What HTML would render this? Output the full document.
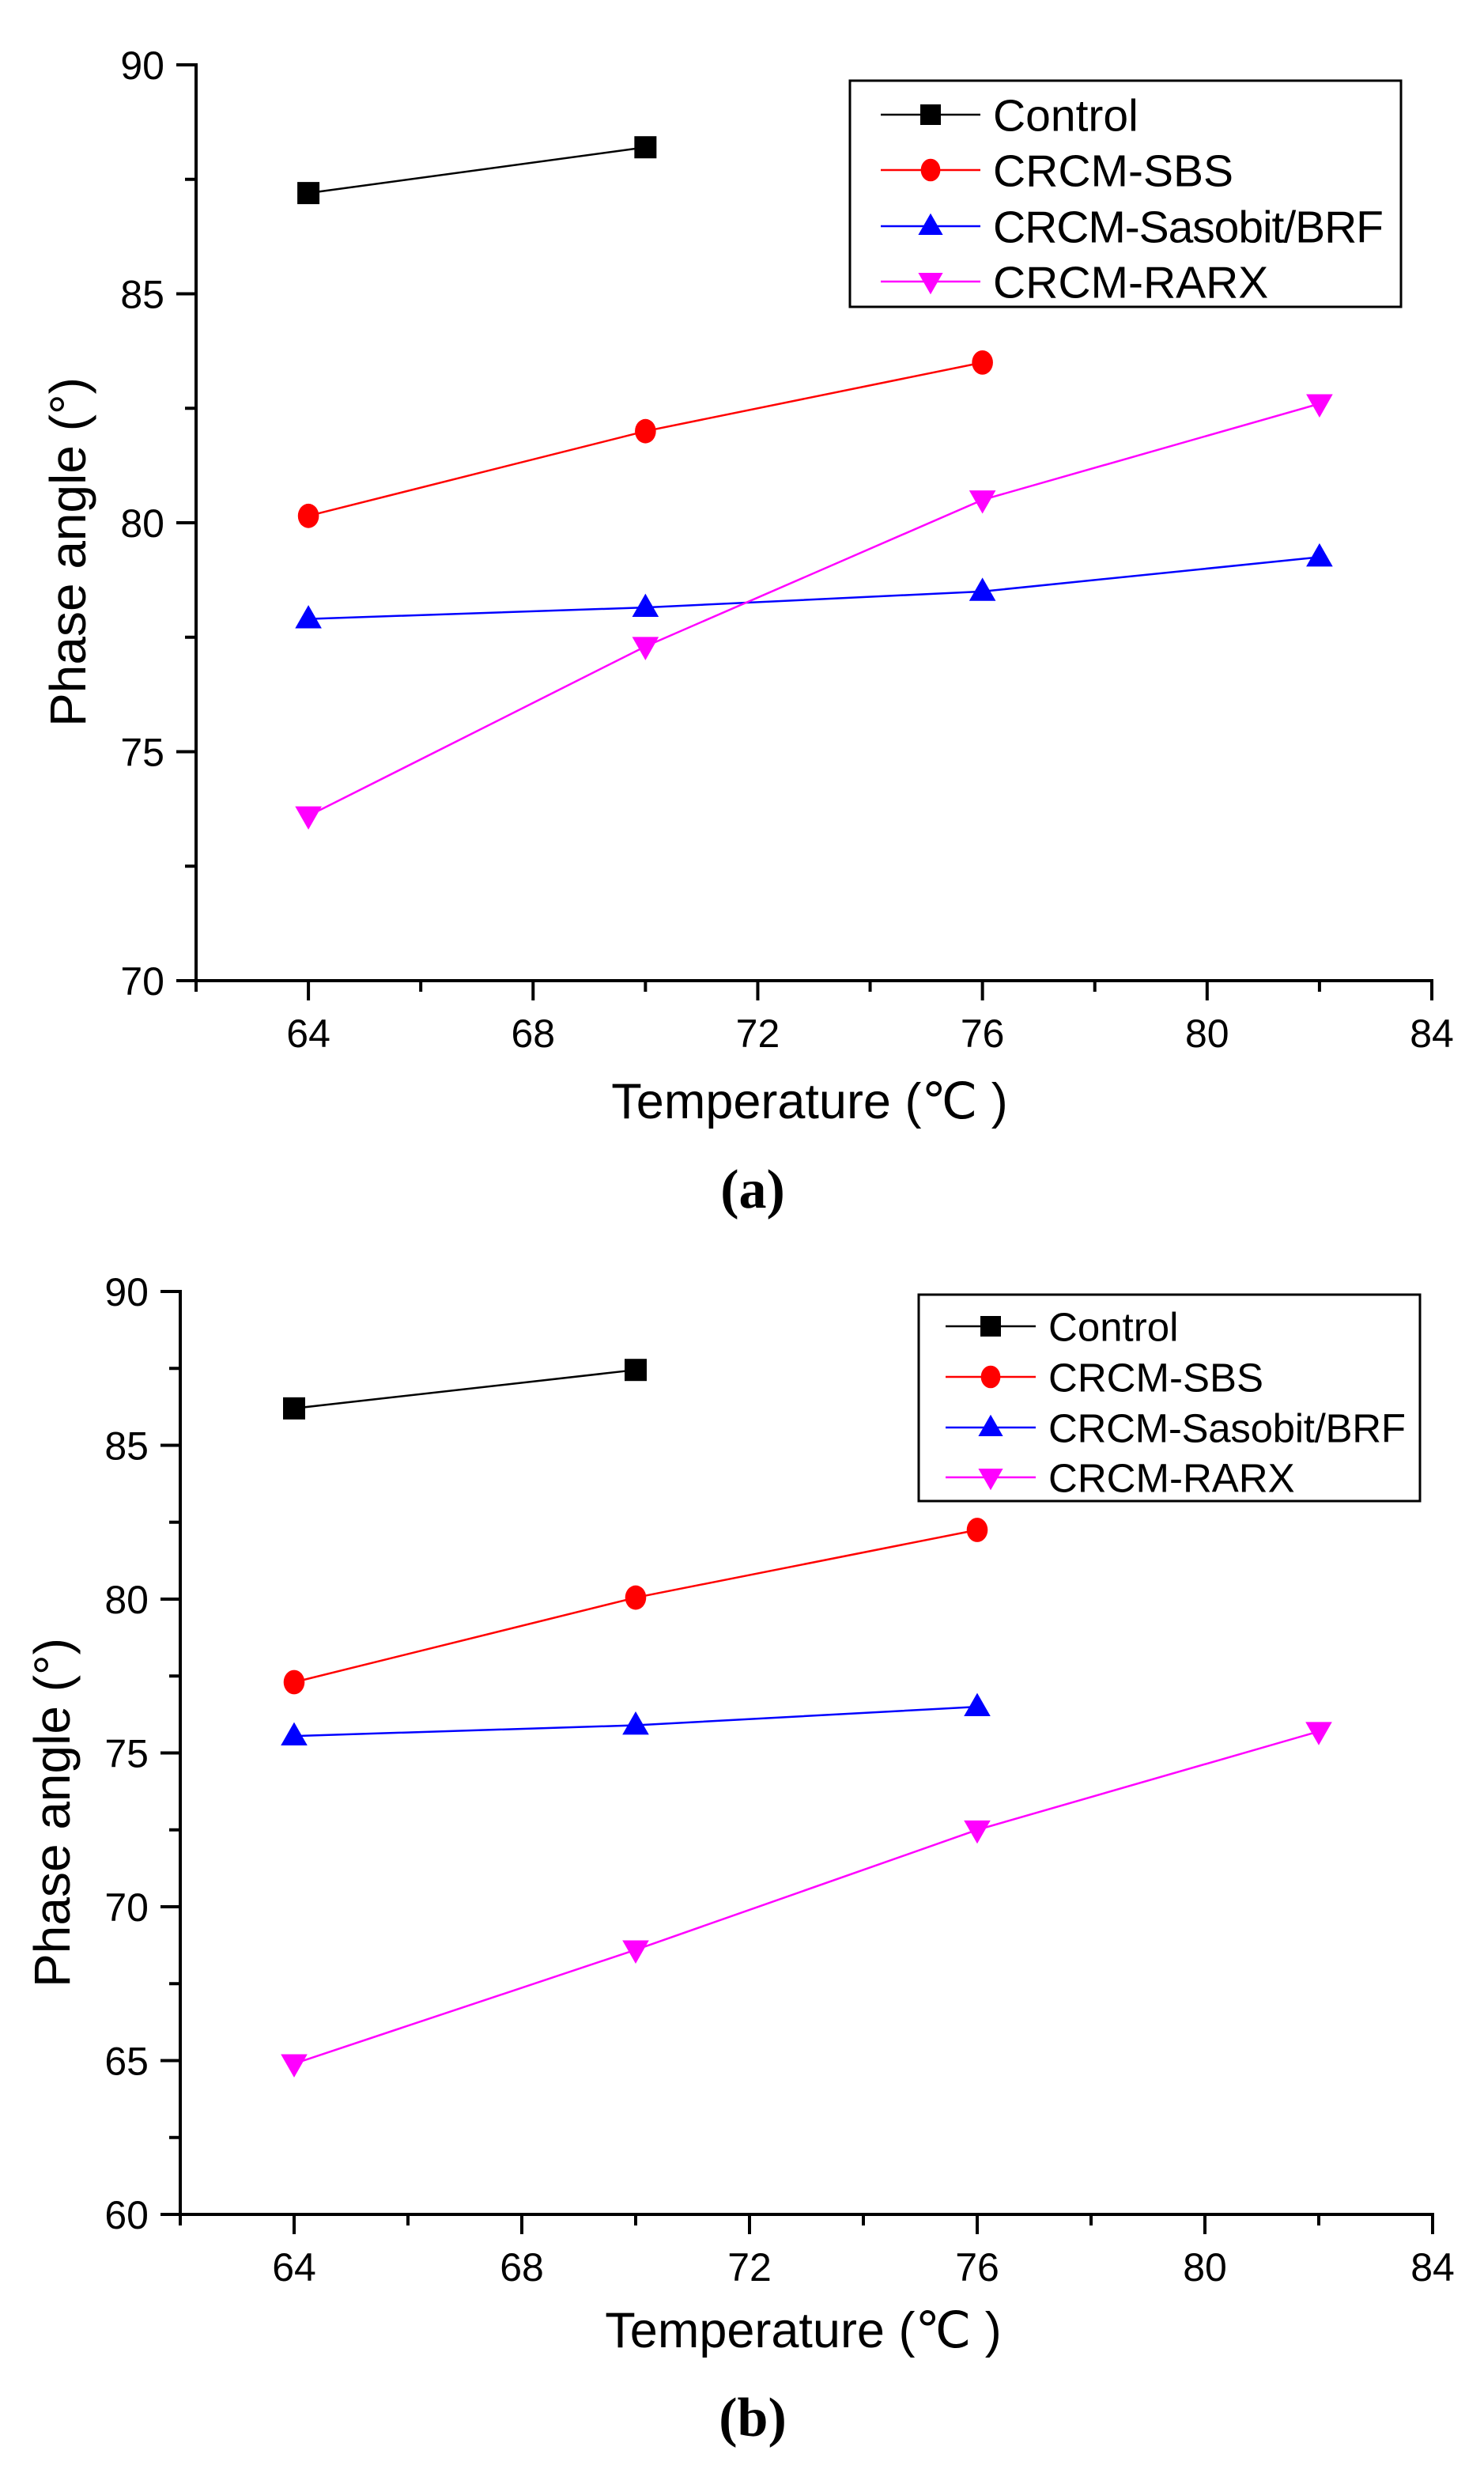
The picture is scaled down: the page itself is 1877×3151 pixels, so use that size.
<!DOCTYPE html>
<html><head><meta charset="utf-8"><style>
html,body{margin:0;padding:0;background:#fff}
svg{display:block}
text{font-family:"Liberation Sans",Arial,sans-serif;fill:#000}
</style></head><body>
<svg id="fig" width="1877" height="3151" viewBox="0 0 1877 3151" xmlns="http://www.w3.org/2000/svg"></svg>
<script>
const xTicks = [64, 68, 72, 76, 80, 84];
const seriesNames = ["Control", "CRCM-SBS", "CRCM-Sasobit/BRF", "CRCM-RARX"];
const temperatures = [64, 70, 76, 82];
const aControl = [87.2, 88.2];
const aSBS = [80.15, 82.0, 83.5];
const aSasobit = [77.9, 78.15, 78.5, 79.25];
const aRARX = [73.6, 77.3, 80.5, 82.6];
const aYTicks = [70, 75, 80, 85, 90];
const bControl = [86.2, 87.45];
const bSBS = [77.3, 80.05, 82.25];
const bSasobit = [75.55, 75.9, 76.5];
const bRARX = [64.9, 68.6, 72.5, 75.7];
const bYTicks = [60, 65, 70, 75, 80, 85, 90];

const NS = "http://www.w3.org/2000/svg";
const svg = document.getElementById("fig");
function el(tag, attrs, parent, txt) {
  const e = document.createElementNS(NS, tag);
  for (const k in attrs) e.setAttribute(k, attrs[k]);
  if (txt !== undefined) e.textContent = txt;
  (parent || svg).appendChild(e);
  return e;
}
const colors = ["#000000", "#ff0000", "#0000ff", "#ff00ff"];
const shapes = ["square", "circle", "tri", "itri"];

function marker(g, shape, cx, cy, color, s) {
  let m;
  if (shape === "square") m = el("rect", {x: cx - s, y: cy - s, width: 2 * s, height: 2 * s, fill: color}, g);
  else if (shape === "circle") m = el("ellipse", {cx: cx, cy: cy, rx: s * 0.95, ry: s * 1.1, fill: color}, g);
  else if (shape === "tri") m = el("polygon", {points: `${cx},${cy - s * 1.25} ${cx - s * 1.2},${cy + s * 0.85} ${cx + s * 1.2},${cy + s * 0.85}`, fill: color}, g);
  else m = el("polygon", {points: `${cx},${cy + s * 1.25} ${cx - s * 1.2},${cy - s * 0.85} ${cx + s * 1.2},${cy - s * 0.85}`, fill: color}, g);
  return m;
}

function chart(cfg) {
  const g = el("g", {});
  
  
  const X = v => cfg.x0 + (v - cfg.xmin) * (cfg.x1 - cfg.x0) / (cfg.xmax - cfg.xmin);
  const Y = v => cfg.y0 - (v - cfg.ymin) * (cfg.y0 - cfg.y1) / (cfg.ymax - cfg.ymin);
  const ax = el("g", {}, g);
  
  
  el("line", {x1: X(cfg.xmin), y1: Y(cfg.ymin), x2: X(cfg.xmax), y2: Y(cfg.ymin), stroke: "#000", "stroke-width": 4, "stroke-linecap": "square"}, ax);
  el("line", {x1: X(cfg.xmin), y1: Y(cfg.ymin), x2: X(cfg.xmin), y2: Y(cfg.ymax), stroke: "#000", "stroke-width": 4, "stroke-linecap": "square"}, ax);
  for (let v = cfg.xmin; v <= cfg.xmax; v += 2) {
    const major = xTicks.includes(v);
    el("line", {x1: X(v), y1: Y(cfg.ymin), x2: X(v), y2: Y(cfg.ymin) + (major ? 25 : 14), stroke: "#000", "stroke-width": 4}, ax);
  }
  xTicks.forEach(v => {
    const t = el("text", {x: X(v), y: Y(cfg.ymin) + 84, "font-size": 50, "text-anchor": "middle"}, ax, String(v));
    
    
  });
  for (let v = cfg.ymin; v <= cfg.ymax; v += 2.5) {
    const major = cfg.yTicks.includes(v);
    el("line", {x1: X(cfg.xmin), y1: Y(v), x2: X(cfg.xmin) - (major ? 25 : 14), y2: Y(v), stroke: "#000", "stroke-width": 4}, ax);
  }
  cfg.yTicks.forEach(v => {
    const t = el("text", {x: X(cfg.xmin) - 40, y: Y(v) + 18, "font-size": 50, "text-anchor": "end"}, ax, String(v));
    
    
  });
  const xt = el("text", {x: cfg.xtx, y: cfg.xty, "font-size": 63, "text-anchor": "middle"}, g, "Temperature (\u2103 )");
  
  
  const yt = el("text", {x: 0, y: 0, "font-size": 64, "text-anchor": "middle", transform: `translate(${cfg.ytx},${cfg.yty}) rotate(-90)`}, g, "Phase angle (\u00b0)");
  
  
  cfg.series.forEach((vals, i) => {
    const sg = el("g", {}, g);
    
    
    const pts = vals.map((v, j) => X(temperatures[j]) + "," + Y(v)).join(" ");
    el("polyline", {points: pts, fill: "none", stroke: colors[i], "stroke-width": 2.5}, sg);
    vals.forEach((v, j) => {
      const m = marker(sg, shapes[i], X(temperatures[j]), Y(v), colors[i], 14);
      
      
    });
  });
  const L = cfg.legend;
  const lg = el("g", {}, g);
  
  
  el("rect", {x: L.x, y: L.y, width: L.w, height: L.h, fill: "#fff", stroke: "#000", "stroke-width": 3}, lg);
  seriesNames.forEach((n, i) => {
    const eg = el("g", {}, lg);
    
    
    const cy = L.rows[i];
    el("line", {x1: L.lx0, y1: cy, x2: L.lx1, y2: cy, stroke: colors[i], "stroke-width": 2.5}, eg);
    marker(eg, shapes[i], (L.lx0 + L.lx1) / 2, cy, colors[i], 13);
    const attrs = {x: L.tx, y: cy + L.fs * 0.36, "font-size": L.fs};
    if (i === 2) attrs.textLength = L.tw;
    el("text", attrs, eg, n);
  });
  const cap = el("text", {x: cfg.capx, y: cfg.capy, "font-size": 70, "font-weight": "bold", "text-anchor": "middle", style: "font-family:'Liberation Serif',serif"}, g, cfg.caption);
  
  
}

chart({name: "chart-a", x0: 248, x1: 1811, xmin: 62, xmax: 84, y0: 1240, y1: 82, ymin: 70, ymax: 90,
  yTicks: aYTicks, series: [aControl, aSBS, aSasobit, aRARX],
  xtx: 1024, xty: 1414, ytx: 108, yty: 698, capx: 952, capy: 1527, caption: "(a)",
  legend: {x: 1075, y: 102, w: 697, h: 286, rows: [145, 215, 286, 356], lx0: 1114, lx1: 1240, tx: 1256, fs: 57, tw: 494}});
chart({name: "chart-b", x0: 228, x1: 1812, xmin: 62, xmax: 84, y0: 2800, y1: 1633, ymin: 60, ymax: 90,
  yTicks: bYTicks, series: [bControl, bSBS, bSasobit, bRARX],
  xtx: 1016, xty: 2968, ytx: 88, yty: 2292, capx: 952, capy: 3080, caption: "(b)",
  legend: {x: 1162, y: 1637, w: 634, h: 261, rows: [1677, 1741, 1805, 1868], lx0: 1196, lx1: 1310, tx: 1326, fs: 51, tw: 452}});
</script>
</body></html>
